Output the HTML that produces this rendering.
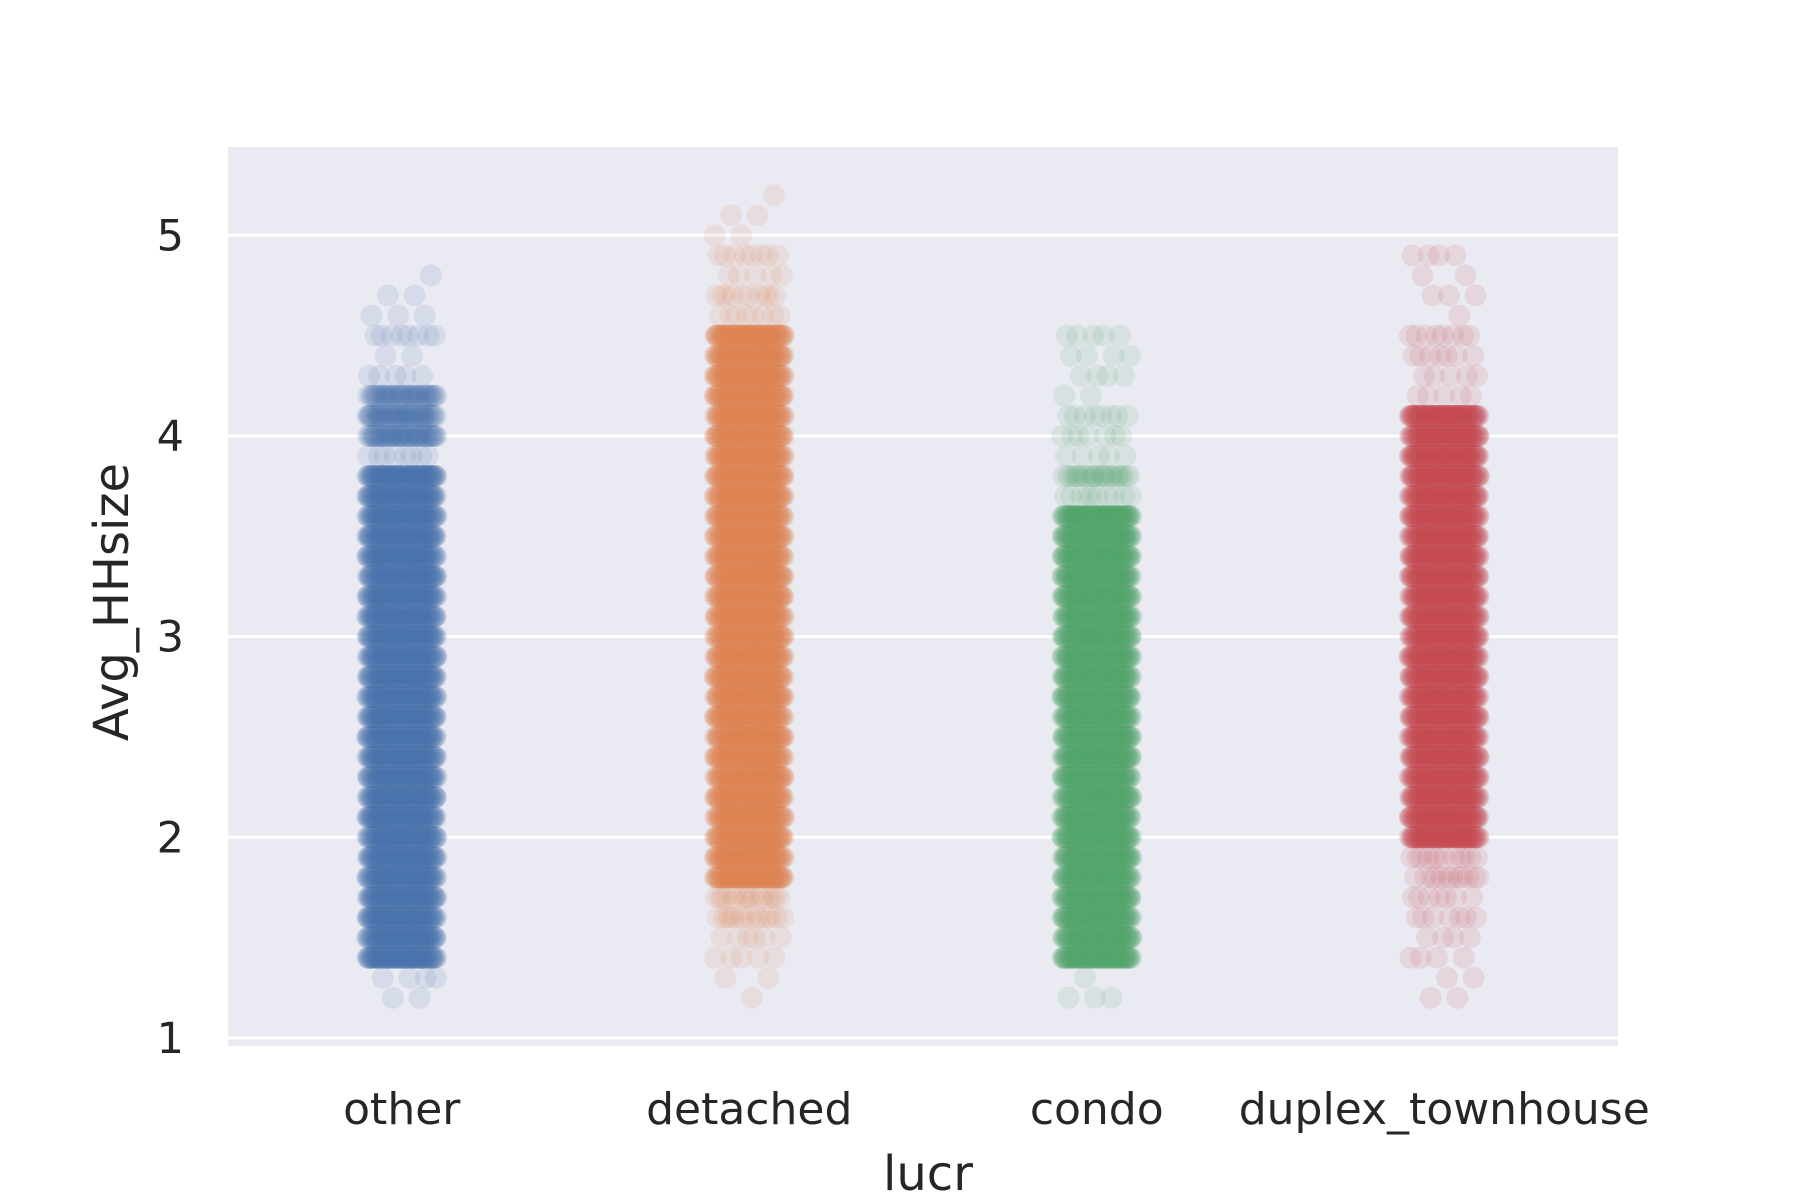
<!DOCTYPE html>
<html><head><meta charset="utf-8"><style>
html,body{margin:0;padding:0;background:#fff;}
svg{display:block;font-family:"DejaVu Sans","Liberation Sans",sans-serif;}
</style></head><body>
<svg id="chart" width="1800" height="1200" viewBox="0 0 1800 1200">
<rect x="228" y="147" width="1390" height="899" fill="#eaeaf2"/>
<g id="grid"></g>
<g id="marks"></g>
<g id="yticks"></g>
<g id="xticks"></g>
<text x="128" y="602" transform="rotate(-90 128 602)" text-anchor="middle" font-size="48" fill="#262626">Avg_HHsize</text>
<text x="928" y="1190" text-anchor="middle" font-size="48" fill="#262626">lucr</text>
</svg>
<script>
const categories = ["other","detached","condo","duplex_townhouse"];
const levelStart = 1.2;
const levelStep = 0.1;
// counts of observations per level 1.2,1.3,...,5.2 (41 levels)
const countsOther =    [2,4,100,100,100,100,100,100,100,100,100,100,100,100,100,100,100,100,100,100,100,100,100,100,100,100,100,8,60,60,50,5,2,8,3,2,1,0,0,0,0];
const countsDetached = [1,2,5,6,14,16,100,100,100,100,100,100,100,100,100,100,100,100,100,100,100,100,100,100,100,100,100,100,100,100,100,100,100,100,8,10,5,8,2,2,1];
const countsCondo =    [3,1,100,100,100,100,100,100,100,100,100,100,100,100,100,100,100,100,100,100,100,100,100,100,100,10,25,5,7,8,2,4,4,5,0,0,0,0,0,0,0];
const countsDuplex =   [2,2,4,4,7,7,12,12,100,100,100,100,100,100,100,100,100,100,100,100,100,100,100,100,100,100,100,100,100,100,5,5,7,8,1,3,2,4,0,0,0];
const seriesCounts = [countsOther,countsDetached,countsCondo,countsDuplex];
const colors = ["#4c72b0","#dd8452","#55a868","#c44e52"];
const yTicks = [1,2,3,4,5];

const NS="http://www.w3.org/2000/svg";
const plotL=228, plotR=1618, plotT=147, plotB=1046;
const yMin=0.96, yMax=5.44;
function yScale(v){return plotB-(v-yMin)/(yMax-yMin)*(plotB-plotT);}
const band=(plotR-plotL)/categories.length;
function xScale(i){return plotL+band*(i+0.5);}

const grid=document.getElementById('grid');
const yt=document.getElementById('yticks');
yTicks.forEach(t=>{
  const l=document.createElementNS(NS,'line');
  l.setAttribute('x1',plotL);l.setAttribute('x2',plotR);
  l.setAttribute('y1',yScale(t));l.setAttribute('y2',yScale(t));
  l.setAttribute('stroke','#fff');l.setAttribute('stroke-width','3');
  
  
  grid.appendChild(l);
  const tx=document.createElementNS(NS,'text');
  tx.setAttribute('x',184);tx.setAttribute('y',yScale(t)+15);
  tx.setAttribute('text-anchor','end');tx.setAttribute('font-size','43');tx.setAttribute('fill','#262626');
  tx.textContent=t;
  
  
  yt.appendChild(tx);
});
const xt=document.getElementById('xticks');
categories.forEach((c,i)=>{
  const tx=document.createElementNS(NS,'text');
  tx.setAttribute('x',xScale(i));tx.setAttribute('y',1124);
  tx.setAttribute('text-anchor','middle');tx.setAttribute('font-size','44');tx.setAttribute('fill','#262626');
  tx.textContent=c;
  
  
  xt.appendChild(tx);
});
const marks=document.getElementById('marks');
let seq=0.137;
seriesCounts.forEach((counts,ci)=>{
  const g=document.createElementNS(NS,'g');
  g.setAttribute('fill',colors[ci]);g.setAttribute('fill-opacity','0.12');
  
  
  counts.forEach((n,li)=>{
    const v=levelStart+levelStep*li;
    for(let k=0;k<n;k++){
      seq=(seq+0.6180339887)%1;
      const jit=(seq*2-1)*0.1*band;
      const c=document.createElementNS(NS,'circle');
      c.setAttribute('cx',(xScale(ci)+jit).toFixed(1));
      c.setAttribute('cy',yScale(v).toFixed(1));
      c.setAttribute('r','11');
      
      
      g.appendChild(c);
    }
  });
  marks.appendChild(g);
});
</script>
</body></html>
